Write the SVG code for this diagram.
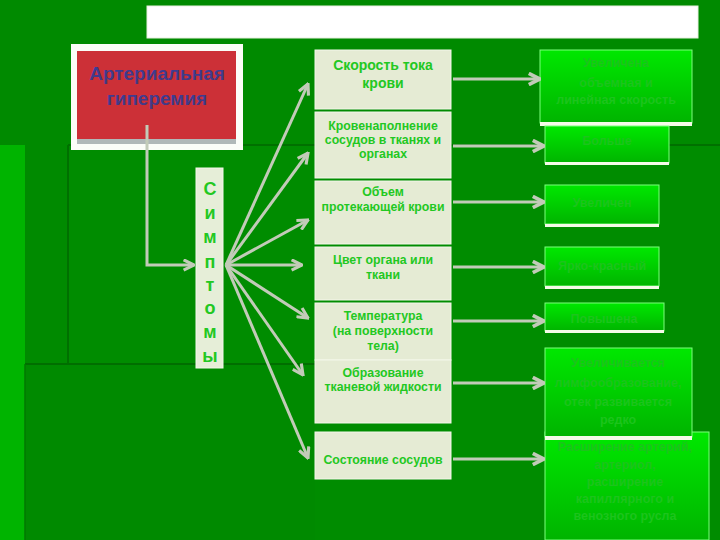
<svg xmlns="http://www.w3.org/2000/svg" width="720" height="540" viewBox="0 0 720 540">
<defs>
<linearGradient id="gr" x1="0" y1="0" x2="0" y2="1">
<stop offset="0" stop-color="#00e800"/>
<stop offset="1" stop-color="#00b400"/>
</linearGradient>
<linearGradient id="rt" x1="0" y1="0" x2="0" y2="1">
<stop offset="0" stop-color="#3a3c9c"/>
<stop offset="1" stop-color="#45397e"/>
</linearGradient>
<marker id="ah" viewBox="0 0 10 10" refX="9" refY="5" markerWidth="13" markerHeight="13" markerUnits="userSpaceOnUse" orient="auto">
<path d="M1,1 L9,5 L1,9" fill="none" stroke="#c2cbb8" stroke-width="2.4" stroke-linejoin="miter"/>
</marker>
<marker id="ah2" viewBox="0 0 10 10" refX="9" refY="5" markerWidth="14" markerHeight="14" markerUnits="userSpaceOnUse" orient="auto">
<path d="M1,1 L9,5 L1,9" fill="none" stroke="#c2cbb8" stroke-width="2.6"/>
</marker>
</defs>
<style>
.mid{fill:#e5ebd4;stroke:#f4f7ea;stroke-width:1}
.mt{font-family:"Liberation Sans",Arial,sans-serif;font-weight:bold;font-size:12.3px;fill:#22c822;text-anchor:middle}
.mt1{font-size:14px}
.rb{fill:url(#gr);stroke:#7dff7d;stroke-width:1}
.rbb{fill:#f4fbe8}
.rtx{font-family:"Liberation Sans",Arial,sans-serif;font-weight:bold;font-size:12.5px;fill:#1cc41c;text-anchor:middle}
.sym{font-family:"Liberation Sans",Arial,sans-serif;font-weight:bold;font-size:18px;fill:#22c822;text-anchor:middle}
.con{stroke:#c2cbb8;stroke-width:3;fill:none}
</style>
<g id="background">
<rect x="0" y="0" width="720" height="540" fill="#008a00"/>
<rect x="0" y="145" width="25" height="395" fill="#00b400"/>
<rect x="68" y="145" width="652" height="395" fill="#008c00"/>
<line x1="68" y1="145" x2="720" y2="145" stroke="#007000" stroke-width="2"/>
<line x1="68" y1="145" x2="68" y2="540" stroke="#007000" stroke-width="2"/>
<rect x="25" y="364" width="290" height="176" fill="#008a00"/>
<line x1="25" y1="364" x2="315" y2="364" stroke="#006e00" stroke-width="2"/>
<line x1="25" y1="364" x2="25" y2="540" stroke="#007800" stroke-width="1.5"/>
</g>
<g id="title">
<rect x="147" y="6" width="551" height="32" fill="#ffffff" stroke="#e8efe0" stroke-width="1"/>
</g>
<g id="arterial">
<rect x="71" y="44" width="172" height="106" fill="#fbfdf8"/>
<rect x="77" y="139" width="159" height="5" fill="#b0b8b8"/>
<rect x="77" y="51" width="159" height="88" fill="#cc3037"/>
<text x="157" y="80" font-family="Liberation Sans,Arial,sans-serif" font-weight="bold" font-size="19px" fill="url(#rt)" text-anchor="middle">Артериальная</text>
<text x="157" y="105" font-family="Liberation Sans,Arial,sans-serif" font-weight="bold" font-size="19px" fill="url(#rt)" text-anchor="middle">гиперемия</text>
</g>
<g id="symptoms">
<rect x="196" y="168" width="27" height="200" fill="#e6eed8" stroke="#f3f7ea" stroke-width="1"/>
<text class="sym" x="210" y="195">С</text>
<text class="sym" x="210" y="219">и</text>
<text class="sym" x="210" y="243">м</text>
<text class="sym" x="210" y="268">п</text>
<text class="sym" x="210" y="291">т</text>
<text class="sym" x="210" y="314">о</text>
<text class="sym" x="210" y="338">м</text>
<text class="sym" x="210" y="362">ы</text>
</g>
<g id="mid1"><rect class="mid" x="315" y="50" width="136" height="59"/>
<text class="mt mt1" x="383" y="70">Скорость тока</text><text class="mt mt1" x="383" y="88">крови</text></g>
<g id="mid2"><rect class="mid" x="315" y="112" width="136" height="66"/>
<text class="mt" x="383" y="130">Кровенаполнение</text><text class="mt" x="383" y="144">сосудов в тканях и</text><text class="mt" x="383" y="158">органах</text></g>
<g id="mid3"><rect class="mid" x="315" y="181" width="136" height="63"/>
<text class="mt" x="383" y="196">Объем</text><text class="mt" x="383" y="211">протекающей крови</text></g>
<g id="mid4"><rect class="mid" x="315" y="247" width="136" height="53"/>
<text class="mt" x="383" y="264">Цвет органа или</text><text class="mt" x="383" y="279">ткани</text></g>
<g id="mid5"><rect class="mid" x="315" y="303" width="136" height="57"/>
<text class="mt" x="383" y="320">Температура</text><text class="mt" x="383" y="335">(на поверхности</text><text class="mt" x="383" y="350">тела)</text></g>
<g id="mid6"><rect class="mid" x="315" y="360" width="136" height="63"/>
<text class="mt" x="383" y="377">Образование</text><text class="mt" x="383" y="391">тканевой жидкости</text></g>
<g id="mid7"><rect class="mid" x="315" y="432" width="136" height="47"/>
<text class="mt" x="383" y="464">Состояние сосудов</text></g>
<g id="res7"><rect class="rb" x="545" y="432" width="164" height="108"/>
<text class="rtx" x="625" y="451">Расширение артерий,</text><text class="rtx" x="625" y="469">артериол,</text><text class="rtx" x="625" y="486">расширение</text><text class="rtx" x="625" y="503">капиллярного и</text><text class="rtx" x="625" y="520">венозного русла</text></g>
<g id="res6"><rect class="rb" x="545" y="348" width="147" height="89"/><rect class="rbb" x="545" y="436" width="147" height="4"/>
<text class="rtx" x="618" y="367">Увеличивается</text><text class="rtx" x="618" y="387">лимфообразование,</text><text class="rtx" x="618" y="406">отек развивается</text><text class="rtx" x="618" y="424">редко</text></g>
<g id="res1"><rect class="rb" x="540" y="50" width="152" height="73"/><rect class="rbb" x="540" y="122" width="152" height="4"/>
<text class="rtx" x="616" y="67">Увеличена</text><text class="rtx" x="616" y="87">объемная и</text><text class="rtx" x="616" y="104">линейная скорость</text></g>
<g id="res2"><rect class="rb" x="545" y="126" width="124" height="37"/><rect class="rbb" x="545" y="162" width="124" height="3"/>
<text class="rtx" x="607" y="145">Больше</text></g>
<g id="res3"><rect class="rb" x="545" y="185" width="114" height="39"/><rect class="rbb" x="545" y="224" width="114" height="3"/>
<text class="rtx" x="602" y="207">Увеличен</text></g>
<g id="res4"><rect class="rb" x="545" y="247" width="114" height="39"/><rect class="rbb" x="545" y="286" width="114" height="3"/>
<text class="rtx" x="602" y="270">Ярко-красный</text></g>
<g id="res5"><rect class="rb" x="545" y="303" width="119" height="28"/><rect class="rbb" x="545" y="330" width="119" height="3"/>
<text class="rtx" x="604" y="323">Повышена</text></g>
<g id="connectors">
<polyline class="con" points="147,125 147,265 194,265" marker-end="url(#ah)"/>
<line class="con" x1="226" y1="265" x2="308" y2="84" marker-end="url(#ah)"/>
<line class="con" x1="226" y1="265" x2="308" y2="153" marker-end="url(#ah)"/>
<line class="con" x1="226" y1="265" x2="308" y2="220" marker-end="url(#ah)"/>
<line class="con" x1="226" y1="265" x2="302" y2="265" marker-end="url(#ah)"/>
<line class="con" x1="226" y1="265" x2="308" y2="318" marker-end="url(#ah)"/>
<line class="con" x1="226" y1="265" x2="303" y2="375" marker-end="url(#ah)"/>
<line class="con" x1="226" y1="265" x2="308" y2="458" marker-end="url(#ah)"/>
<line class="con" x1="453" y1="79" x2="540" y2="79" stroke-width="4" marker-end="url(#ah2)"/>
<line class="con" x1="453" y1="146" x2="544" y2="146" stroke-width="4" marker-end="url(#ah2)"/>
<line class="con" x1="453" y1="202" x2="544" y2="202" stroke-width="4" marker-end="url(#ah2)"/>
<line class="con" x1="453" y1="267" x2="544" y2="267" stroke-width="4" marker-end="url(#ah2)"/>
<line class="con" x1="453" y1="321" x2="544" y2="321" stroke-width="4" marker-end="url(#ah2)"/>
<line class="con" x1="453" y1="383" x2="544" y2="383" stroke-width="4" marker-end="url(#ah2)"/>
<line class="con" x1="453" y1="459" x2="544" y2="459" stroke-width="4" marker-end="url(#ah2)"/>
</g>
</svg>
